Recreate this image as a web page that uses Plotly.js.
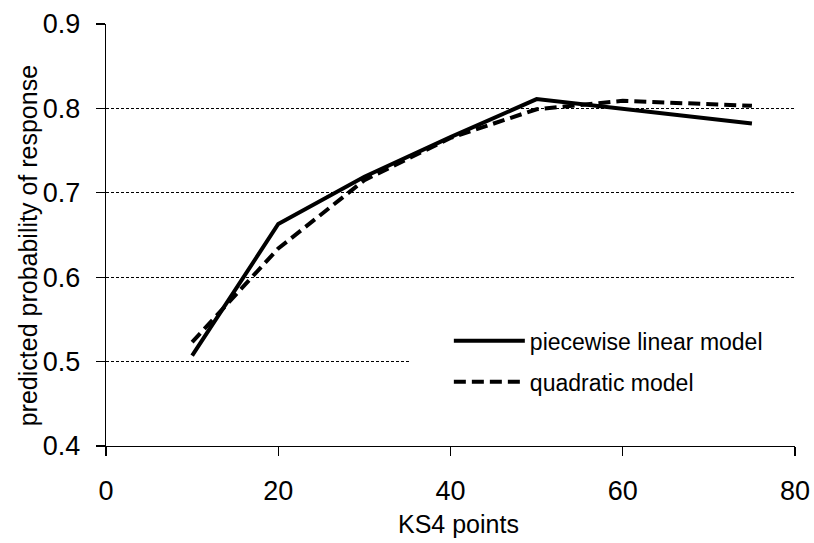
<!DOCTYPE html>
<html>
<head>
<meta charset="utf-8">
<script src="https://cdn.plot.ly/plotly-3.0.1.min.js"></script>
<style>html,body{margin:0;padding:0;background:#fff;}#chart{width:814px;height:543px;}</style>
</head>
<body>
<div id="chart"></div>
<script>
const ks4Points = [10, 20, 30, 40, 50, 60, 75];
const piecewiseLinear = [0.507, 0.663, 0.719, 0.766, 0.811, 0.799, 0.782];
const quadratic = [0.523, 0.634, 0.715, 0.765, 0.799, 0.809, 0.803];
const seriesNames = ['piecewise linear model', 'quadratic model'];
const xTicks = [0, 20, 40, 60, 80];
const yTicks = [0.4, 0.5, 0.6, 0.7, 0.8, 0.9];
const xTitle = 'KS4 points';
const yTitle = 'predicted probability of response';

const font = 'Liberation Sans, Arial, sans-serif';

const traces = [
  {x: ks4Points, y: piecewiseLinear, name: seriesNames[0], type: 'scatter', mode: 'lines',
   line: {color: '#000', width: 4}, legendgroup: 'a'},
  {x: ks4Points, y: quadratic, name: seriesNames[1], type: 'scatter', mode: 'lines',
   line: {color: '#000', width: 4, dash: '12px,6px'}, legendgroup: 'b'}
];

const layout = {
  width: 814, height: 543,
  margin: {l: 106, r: 18.5, t: 23.5, b: 97},
  paper_bgcolor: '#fff', plot_bgcolor: '#fff',
  font: {family: font, color: '#000'},
  showlegend: true,
  legend: {x: 0.4976, y: 0.30, xanchor: 'left', yanchor: 'top', bgcolor: 'rgba(0,0,0,0)',
           font: {size: 23, family: font, color: '#000'}, itemwidth: 71,
           traceorder: 'grouped', tracegroupgap: 8},
  xaxis: {range: [0, 80], tickvals: xTicks, ticktext: xTicks.map(String),
          showgrid: false, zeroline: false, showline: true, linecolor: '#000', linewidth: 1.3,
          ticks: 'outside', ticklen: 9, tickcolor: '#000', tickwidth: 1.3,
          tickfont: {size: 27, family: font}, ticklabelstandoff: 11},
  yaxis: {range: [0.4, 0.9], tickvals: yTicks, ticktext: yTicks.map(v => v.toFixed(1)),
          showgrid: true, gridcolor: '#000', gridwidth: 1, griddash: '3px,2px',
          zeroline: false, showline: true, linecolor: '#000', linewidth: 1.3,
          ticks: 'outside', ticklen: 9, tickcolor: '#000', tickwidth: 1.3,
          tickfont: {size: 27, family: font}, ticklabelstandoff: 10},
  annotations: [
    {text: xTitle, xref: 'paper', yref: 'paper', x: (459 - 106) / 689.5, y: (446 - 524) / 422.5,
     xanchor: 'center', yanchor: 'middle', showarrow: false, font: {size: 25, family: font, color: '#000'}},
    {text: yTitle, xref: 'paper', yref: 'paper', x: (28 - 106) / 689.5, y: (446 - 246) / 422.5,
     xanchor: 'center', yanchor: 'middle', textangle: -90, showarrow: false,
     font: {size: 25, family: font, color: '#000'}}
  ],
  shapes: [{type: 'rect', xref: 'paper', yref: 'paper', x0: 0.441, x1: 1.0, y0: 0.17, y1: 0.23,
            fillcolor: '#fff', line: {width: 0}, layer: 'above'}]
};

Plotly.newPlot('chart', traces, layout, {displayModeBar: false, staticPlot: true});
</script>
</body>
</html>
